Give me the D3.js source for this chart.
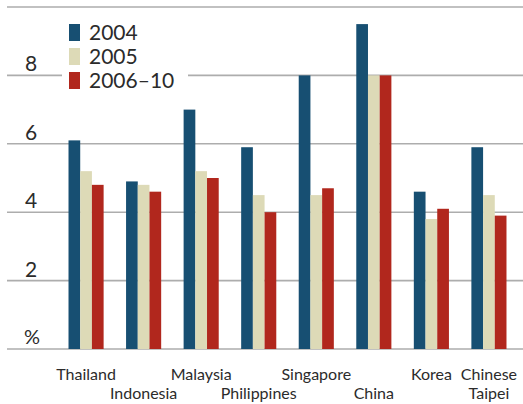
<!DOCTYPE html>
<html>
<head>
<meta charset="utf-8">
<script src="https://cdn.jsdelivr.net/npm/d3@7"></script>
<style>
  body { margin: 0; background: #fff; }
  svg { display: block; }
</style>
</head>
<body>
<div id="chart"></div>
<script>
// Data
var countries = ["Thailand", "Indonesia", "Malaysia", "Philippines", "Singapore", "China", "Korea", "Chinese Taipei"];
var labelLines = [["Thailand"], ["Indonesia"], ["Malaysia"], ["Philippines"], ["Singapore"], ["China"], ["Korea"], ["Chinese", "Taipei"]];
var seriesNames = ["2004", "2005", "2006\u201310"];
var v2004 = [6.1, 4.9, 7.0, 5.9, 8.0, 9.5, 4.6, 5.9];
var v2005 = [5.2, 4.8, 5.2, 4.5, 4.5, 8.0, 3.8, 4.5];
var v2006 = [4.8, 4.6, 5.0, 4.0, 4.7, 8.0, 4.1, 3.9];
var yTicks = [2, 4, 6, 8, 10];
var colors = ["#174f72", "#dddab7", "#b1271d"];

var width = 523, height = 404;
var svg = d3.select("#chart").append("svg")
    .attr("width", width)
    .attr("height", height);

var seriesValues = [v2004, v2005, v2006];
var rows = countries.map(function(c, i) {
    return { country: c, values: seriesValues.map(function(s, j) { return { key: seriesNames[j], value: s[i] }; }) };
});

// Scales
var x0 = d3.scaleBand().domain(countries).range([57, 518]).paddingInner(0.39).paddingOuter(0.2);
var x1 = d3.scaleBand().domain(seriesNames).range([0, x0.bandwidth()]);
var y = d3.scaleLinear().domain([0, 10]).range([349, 7]);
var color = d3.scaleOrdinal().domain(seriesNames).range(colors);

var textColor = "#2b2b2b";
var gridColor = "#adadad";
var font = "Lato, 'Open Sans', sans-serif";

// Gridlines
svg.append("g").selectAll("line")
    .data([0].concat(yTicks))
    .enter().append("line")
    .attr("x1", 7).attr("x2", width)
    .attr("y1", function(d) { return y(d); })
    .attr("y2", function(d) { return y(d); })
    .style("stroke", gridColor)
    .style("stroke-width", 1.6);

// Y labels sit above their gridline
svg.append("g").selectAll("text")
    .data([2, 4, 6, 8])
    .enter().append("text")
    .attr("x", 31).attr("y", function(d) { return y(d) - 4; })
    .attr("text-anchor", "middle")
    .style("font-family", font)
    .style("font-size", "21px")
    .style("fill", textColor)
    .text(function(d) { return d; });

svg.append("text")
    .attr("x", 32).attr("y", y(0) - 5)
    .attr("text-anchor", "middle")
    .style("font-family", font)
    .style("font-size", "20px")
    .style("fill", textColor)
    .text("%");

// Bars
var groups = svg.append("g").selectAll("g")
    .data(rows)
    .enter().append("g")
    .attr("transform", function(d) { return "translate(" + x0(d.country) + ",0)"; });

groups.selectAll("rect")
    .data(function(d) { return d.values; })
    .enter().append("rect")
    .attr("x", function(d) { return x1(d.key); })
    .attr("y", function(d) { return y(d.value); })
    .attr("width", x1.bandwidth())
    .attr("height", function(d) { return y(0) - y(d.value); })
    .style("fill", function(d) { return color(d.key); });

// Category labels, staggered on two rows
var labels = svg.append("g").selectAll("text")
    .data(labelLines)
    .enter().append("text")
    .attr("text-anchor", "middle")
    .style("font-family", font)
    .style("font-size", "16px")
    .style("fill", textColor);

labels.each(function(lines, i) {
    var cx = x0(countries[i]) + x0.bandwidth() / 2;
    var t = d3.select(this);
    lines.forEach(function(line, k) {
        var row = lines.length > 1 ? k : i % 2;
        t.append("tspan")
            .attr("x", cx)
            .attr("y", row === 0 ? 380 : 399)
            .text(line);
    });
});

// Legend
var legend = svg.append("g");
legend.append("rect")
    .attr("x", 62).attr("y", 14).attr("width", 126).attr("height", 80)
    .style("fill", "#fff");

var items = legend.selectAll("g")
    .data(seriesNames)
    .enter().append("g")
    .attr("transform", function(d, i) { return "translate(69," + (24 + i * 24) + ")"; });

items.append("rect")
    .attr("width", 11).attr("height", 17)
    .style("fill", function(d) { return color(d); });

items.append("text")
    .attr("x", 20).attr("y", 16)
    .style("font-family", font)
    .style("font-size", "21px")
    .style("fill", textColor)
    .text(function(d) { return d; });
</script>
</body>
</html>
